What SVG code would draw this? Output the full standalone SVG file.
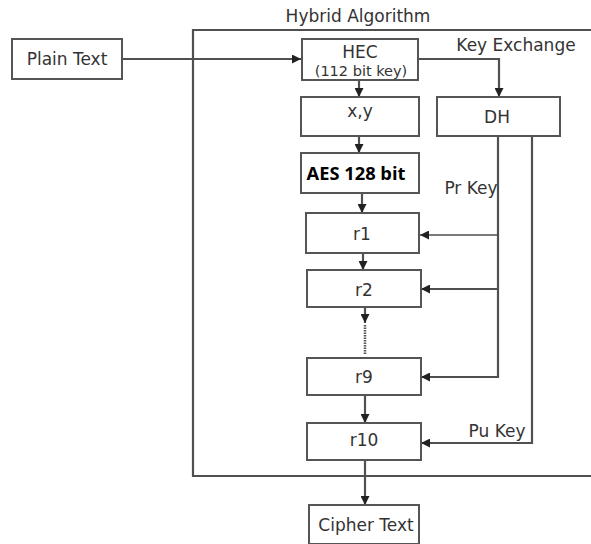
<svg xmlns="http://www.w3.org/2000/svg" width="591" height="544" viewBox="0 0 591 544">
<style>
.box{fill:#fff;stroke:#555;stroke-width:2}
.ln{fill:none;stroke:#505050;stroke-width:2.2}
.t{font-family:"DejaVu Sans",Verdana,sans-serif;font-size:17px;fill:#333;text-anchor:middle}
.ts{font-size:14.5px}
.b{font-family:"Open Sans","Liberation Sans",sans-serif;font-weight:bold;font-size:18.3px;fill:#000;text-anchor:middle}
</style>
<defs>
<marker id="ah" viewBox="0 0 10 10" refX="10" refY="5" markerWidth="9" markerHeight="9" markerUnits="userSpaceOnUse" orient="auto">
<path d="M0,0 L10,5 L0,10 Z" fill="#222"/>
</marker>
</defs>
<rect width="591" height="544" fill="#fff"/>
<g id="frame">
<path class="ln" d="M591,30 H193 V476 H591"/>
<text class="t" x="358" y="22">Hybrid Algorithm</text>
<text class="t" x="516" y="51">Key Exchange</text>
<text class="t" x="471" y="194">Pr Key</text>
<text class="t" x="497" y="437">Pu Key</text>
</g>
<g id="connectors">
<path class="ln" d="M122,59 H301" marker-end="url(#ah)"/>
<path class="ln" d="M418,59 H499 V97" marker-end="url(#ah)"/>
<path class="ln" d="M359,80 V97" marker-end="url(#ah)"/>
<path class="ln" d="M359,136 V153" marker-end="url(#ah)"/>
<path class="ln" d="M362,193 V213" marker-end="url(#ah)"/>
<path class="ln" d="M363,253 V270" marker-end="url(#ah)"/>
<path class="ln" d="M365,307 V323" marker-end="url(#ah)"/>
<path fill="none" stroke="#555" stroke-width="2.5" stroke-dasharray="1.5,1" d="M365,325 V355"/>
<path class="ln" d="M365,395 V423" marker-end="url(#ah)"/>
<path class="ln" d="M365,460 V505" marker-end="url(#ah)"/>
<path class="ln" d="M498,136 V377 H421" marker-end="url(#ah)"/>
<path fill="none" stroke="#505050" stroke-width="1.3" d="M498,235 H420" marker-end="url(#ah)"/>
<path class="ln" d="M498,289 H421" marker-end="url(#ah)"/>
<path class="ln" d="M532,136 V443 H421" marker-end="url(#ah)"/>
</g>
<g id="plain">
<rect class="box" x="12" y="39" width="110" height="40"/>
<text class="t" x="67" y="65">Plain Text</text>
</g>
<g id="hec">
<rect class="box" x="302" y="39" width="116" height="41"/>
<text class="t" x="360" y="58">HEC</text>
<text class="t ts" x="361" y="76">(112 bit key)</text>
</g>
<g id="xy">
<rect class="box" x="301" y="97" width="118" height="39"/>
<text class="t" x="360" y="117">x,y</text>
</g>
<g id="dh">
<rect class="box" x="437" y="97" width="123" height="39"/>
<text class="t" x="497" y="123">DH</text>
</g>
<g id="aes">
<rect class="box" x="301" y="153" width="118" height="40"/>
<text class="b" x="356" y="180">AES 128 bit</text>
</g>
<g id="r1">
<rect class="box" x="306" y="213" width="113" height="40"/>
<text class="t" x="362" y="240">r1</text>
</g>
<g id="r2">
<rect class="box" x="307" y="270" width="114" height="37"/>
<text class="t" x="364" y="296">r2</text>
</g>
<g id="r9">
<rect class="box" x="307" y="358" width="114" height="37"/>
<text class="t" x="364" y="383">r9</text>
</g>
<g id="r10">
<rect class="box" x="307" y="423" width="114" height="37"/>
<text class="t" x="364" y="446">r10</text>
</g>
<g id="cipher">
<rect class="box" x="309" y="505" width="110" height="39"/>
<text class="t" x="366" y="531">Cipher Text</text>
</g>
</svg>
